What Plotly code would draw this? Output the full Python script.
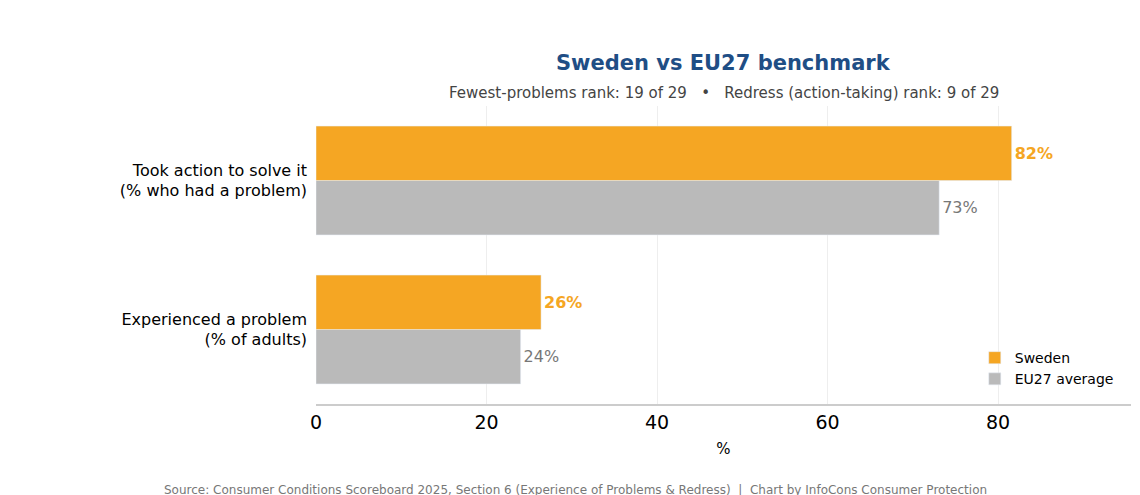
import plotly.graph_objects as go

categories = ["Experienced a problem<br>(% of adults)", "Took action to solve it<br>(% who had a problem)"]
sweden = [26.4, 81.6]
eu27 = [24.0, 73.1]
tick_vals = [0, 20, 40, 60, 80]

fig = go.Figure()
fig.add_trace(go.Bar(y=categories, x=eu27, name="EU27 average", orientation="h",
                     marker_color="#bababa", text=[f"{v:.0f}%" for v in eu27],
                     textposition="outside", textfont=dict(color="#777777", size=16),
                     cliponaxis=False))
fig.add_trace(go.Bar(y=categories, x=sweden, name="Sweden", orientation="h",
                     marker_color="#f5a623", text=[f"<b>{v:.0f}%</b>" for v in sweden],
                     textposition="outside", textfont=dict(color="#f5a623", size=16),
                     cliponaxis=False))

fig.update_layout(
    width=1140, height=495, barmode="group", bargap=0.27, bargroupgap=0,
    plot_bgcolor="white", paper_bgcolor="white",
    font=dict(family="DejaVu Sans, sans-serif", color="black"),
    margin=dict(l=308, r=17, t=98, b=99, autoexpand=False),
    title=dict(text="<b>Sweden vs EU27 benchmark</b>", x=0.627, xanchor="center", y=0.889, yanchor="middle",
               font=dict(size=21, color="#1f4e85")),
    legend=dict(x=0.985, y=0.03, xanchor="right", yanchor="bottom", traceorder="reversed",
                font=dict(size=14), bgcolor="rgba(255,255,255,0)"),
    showlegend=True,
)
fig.add_annotation(text="Fewest-problems rank: 19 of 29   •   Redress (action-taking) rank: 9 of 29",
                   xref="paper", yref="paper", x=0.5, y=1.0, yshift=2, xanchor="center", yanchor="bottom",
                   showarrow=False, font=dict(size=15, color="#444444"))
fig.add_annotation(text="Source: Consumer Conditions Scoreboard 2025, Section 6 (Experience of Problems & Redress)  |  Chart by InfoCons Consumer Protection",
                   xref="paper", yref="paper", x=0.5, xshift=-148, y=0, yshift=-99+4, xanchor="center", yanchor="bottom",
                   showarrow=False, font=dict(size=12, color="#777777"))
fig.update_xaxes(range=[0, 95.6], tickvals=tick_vals, tickfont=dict(size=19, color="black"),
                 showgrid=True, gridcolor="#eeeeee", zeroline=False, automargin=False,
                 showline=True, linecolor="#cccccc", linewidth=1.5,
                 title=dict(text="%", font=dict(size=15), standoff=12))
fig.update_yaxes(tickfont=dict(size=16, color="black"), showgrid=False, ticks="",
                 ticklabelstandoff=8, automargin=False)

fig.write_html("out.html")
